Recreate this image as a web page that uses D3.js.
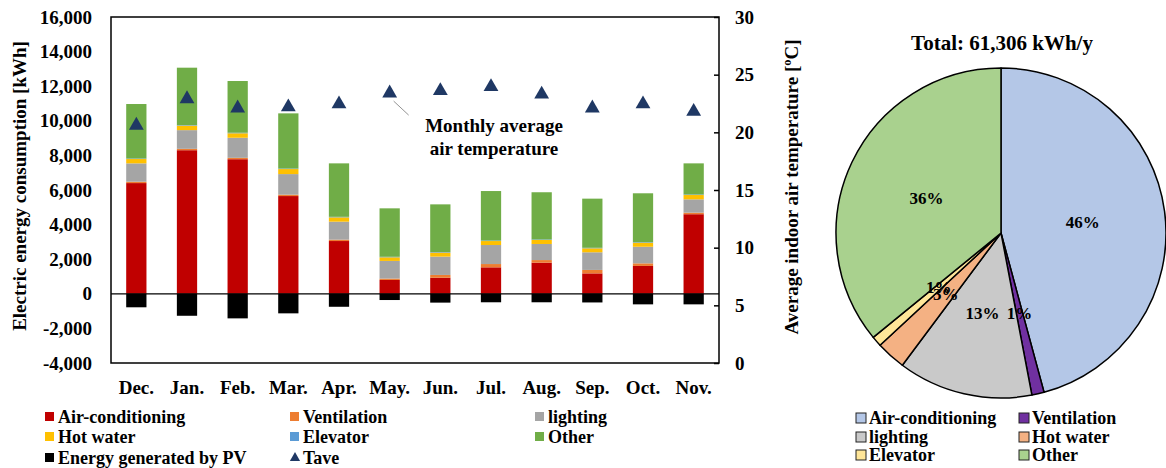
<!DOCTYPE html>
<html>
<head>
<meta charset="utf-8">
<script src="https://cdn.jsdelivr.net/npm/d3@7"></script>
<style>
	body { margin: 0; background: #fff; }
	svg text { font-family: "Liberation Serif", "Times New Roman", serif; font-weight: bold; fill: #000; }
</style>
</head>
<body>
<div id="main-view"></div>
<script>
// monthly data (kWh)
var months = ["Dec.", "Jan.", "Feb.", "Mar.", "Apr.", "May.", "Jun.", "Jul.", "Aug.", "Sep.", "Oct.", "Nov."];
var airCond  = [6400, 8300, 7780, 5650, 3050, 800, 930, 1530, 1800, 1180, 1610, 4600];
var vent     = [80, 80, 80, 80, 80, 80, 160, 190, 150, 200, 150, 90];
var lighting = [1060, 1080, 1160, 1190, 1040, 1020, 1060, 1100, 930, 1020, 960, 770];
var hotWater = [250, 260, 260, 290, 250, 210, 230, 230, 230, 230, 230, 250];
var elevator = [30, 30, 30, 30, 30, 30, 30, 30, 30, 30, 30, 30];
var other    = [3150, 3320, 2990, 3190, 3090, 2800, 2760, 2860, 2730, 2840, 2830, 1800];
var pvGen    = [-780, -1270, -1420, -1130, -750, -360, -510, -490, -490, -500, -610, -610];
var tave     = [20.6, 22.9, 22.1, 22.2, 22.45, 23.4, 23.6, 23.95, 23.3, 22.1, 22.45, 21.8];

var energyTicks = [-4000, -2000, 0, 2000, 4000, 6000, 8000, 10000, 12000, 14000, 16000];
var tempTicks = [0, 5, 10, 15, 20, 25, 30];

// annual breakdown for the pie
var pieNames  = ["Air-conditioning", "Ventilation", "lighting", "Hot water", "Elevator", "Other"];
var pieValues = [28078, 736, 8092, 1778, 613, 22009];

var barKeys = ["Air-conditioning", "Ventilation", "lighting", "Hot water", "Elevator", "Other"];
var barColors = {
	"Air-conditioning": "#c00000",
	"Ventilation": "#ed7d31",
	"lighting": "#a5a5a5",
	"Hot water": "#ffc000",
	"Elevator": "#5b9bd5",
	"Other": "#70ad47"
};
var pieColors = ["#b4c7e7", "#7030a0", "#c9c9c9", "#f4b183", "#ffe699", "#a9d18e"];
var triColor = "#1f3864";

var width = 1166, height = 468;
var plot = { left: 111, right: 719, top: 17, bottom: 363 };

var svg = d3.select("#main-view").append("svg")
	.attr("width", width)
	.attr("height", height);

var fmt = d3.formatLocale({ decimal: ".", thousands: ",", grouping: [3], currency: ["", ""], minus: "-" }).format(",");

drawBars();
drawPie();

function drawBars() {
	var x = d3.scaleBand().domain(months).range([plot.left, plot.right]).paddingInner(0.6).paddingOuter(0.3);
	var y = d3.scaleLinear().domain([-4000, 16000]).range([plot.bottom, plot.top]);
	var yT = d3.scaleLinear().domain([0, 30]).range([plot.bottom, plot.top]);

	var rows = months.map(function(m, i) {
		return {
			month: m,
			"Air-conditioning": airCond[i],
			"Ventilation": vent[i],
			"lighting": lighting[i],
			"Hot water": hotWater[i],
			"Elevator": elevator[i],
			"Other": other[i]
		};
	});
	var series = d3.stack().keys(barKeys)(rows);

	svg.append("g").selectAll("g")
		.data(series)
		.enter().append("g")
		.attr("fill", function(d) { return barColors[d.key]; })
		.selectAll("rect")
		.data(function(d) { return d; })
		.enter().append("rect")
		.attr("x", function(d) { return x(d.data.month); })
		.attr("width", x.bandwidth())
		.attr("y", function(d) { return y(d[1]); })
		.attr("height", function(d) { return y(d[0]) - y(d[1]); });

	// PV generation below zero
	svg.append("g").selectAll("rect")
		.data(pvGen)
		.enter().append("rect")
		.attr("fill", "#000")
		.attr("x", function(d, i) { return x(months[i]); })
		.attr("width", x.bandwidth())
		.attr("y", y(0))
		.attr("height", function(d) { return y(d) - y(0); });

	// zero line
	svg.append("line")
		.attr("x1", plot.left).attr("x2", plot.right)
		.attr("y1", y(0)).attr("y2", y(0))
		.attr("stroke", "#000").attr("stroke-width", 1.2);

	// frame
	svg.append("rect")
		.attr("x", plot.left).attr("y", plot.top)
		.attr("width", plot.right - plot.left).attr("height", plot.bottom - plot.top)
		.attr("fill", "none").attr("stroke", "#000").attr("stroke-width", 1.5);

	var left = svg.append("g")
		.attr("transform", "translate(" + plot.left + ",0)")
		.call(d3.axisLeft(y).tickValues(energyTicks).tickSize(0).tickPadding(19).tickFormat(fmt));
	left.select(".domain").remove();
	left.selectAll("text").style("font-size", "19px").style("font-family", null);

	var right = svg.append("g")
		.attr("transform", "translate(" + plot.right + ",0)")
		.call(d3.axisRight(yT).tickValues(tempTicks).tickSize(-5).tickPadding(16));
	right.select(".domain").remove();
	right.selectAll("line").attr("stroke-width", 1.5);
	right.selectAll("text").style("font-size", "19px").style("font-family", null);

	var bottom = svg.append("g")
		.attr("transform", "translate(0," + plot.bottom + ")")
		.call(d3.axisBottom(x).tickSize(0).tickPadding(18));
	bottom.select(".domain").remove();
	bottom.selectAll("text").style("font-size", "19px").style("font-family", null);

	// axis titles
	svg.append("text")
		.attr("transform", "translate(26,186) rotate(-90)")
		.attr("text-anchor", "middle")
		.style("font-size", "19px")
		.text("Electric energy consumption [kWh]");
	svg.append("text")
		.attr("transform", "translate(798,187) rotate(-90)")
		.attr("text-anchor", "middle")
		.style("font-size", "19px")
		.text("Average indoor air temperature [ºC]");

	// Tave triangles
	var tri = d3.symbol().type(d3.symbolTriangle).size(95);
	svg.append("g").selectAll("path")
		.data(tave)
		.enter().append("path")
		.attr("d", tri)
		.attr("fill", triColor)
		.attr("transform", function(d, i) {
			return "translate(" + (x(months[i]) + x.bandwidth() / 2) + "," + yT(d) + ")";
		});

	// annotation
	var mayX = x("May.") + x.bandwidth() / 2;
	svg.append("line")
		.attr("x1", mayX + 4).attr("y1", yT(tave[5]) + 8)
		.attr("x2", mayX + 19).attr("y2", yT(tave[5]) + 22)
		.attr("stroke", "#777").attr("stroke-width", 0.8);
	svg.append("text")
		.attr("x", 494).attr("y", 132)
		.attr("text-anchor", "middle")
		.style("font-size", "19px")
		.text("Monthly average");
	svg.append("text")
		.attr("x", 494).attr("y", 155)
		.attr("text-anchor", "middle")
		.style("font-size", "19px")
		.text("air temperature");

	// legend
	var legendItems = [
		{ name: "Air-conditioning", color: barColors["Air-conditioning"], col: 0, row: 0 },
		{ name: "Ventilation", color: barColors["Ventilation"], col: 1, row: 0 },
		{ name: "lighting", color: barColors["lighting"], col: 2, row: 0 },
		{ name: "Hot water", color: barColors["Hot water"], col: 0, row: 1 },
		{ name: "Elevator", color: barColors["Elevator"], col: 1, row: 1 },
		{ name: "Other", color: barColors["Other"], col: 2, row: 1 },
		{ name: "Energy generated by PV", color: "#000", col: 0, row: 2 },
		{ name: "Tave", color: triColor, col: 1, row: 2, tri: true }
	];
	var colX = [45, 290, 535];
	var rowY = [417, 437, 458];
	var lg = svg.append("g").selectAll("g")
		.data(legendItems)
		.enter().append("g")
		.attr("transform", function(d) { return "translate(" + colX[d.col] + "," + rowY[d.row] + ")"; });
	lg.filter(function(d) { return !d.tri; }).append("rect")
		.attr("x", 0).attr("y", -5).attr("width", 9).attr("height", 9)
		.attr("fill", function(d) { return d.color; });
	lg.filter(function(d) { return d.tri; }).append("path")
		.attr("d", d3.symbol().type(d3.symbolTriangle).size(45))
		.attr("transform", "translate(5,0)")
		.attr("fill", function(d) { return d.color; });
	lg.append("text")
		.attr("x", 13).attr("dy", "0.35em")
		.style("font-size", "18px")
		.text(function(d) { return d.name; });
}

function drawPie() {
	var cx = 1001, cy = 233, r = 165;
	var total = d3.sum(pieValues);
	var pct = d3.format(".0%");

	svg.append("text")
		.attr("x", 1002).attr("y", 50)
		.attr("text-anchor", "middle")
		.style("font-size", "21px")
		.text("Total: " + fmt(total) + " kWh/y");

	var arcs = d3.pie().sort(null)(pieValues);
	var arc = d3.arc().innerRadius(0).outerRadius(r);

	var g = svg.append("g").attr("transform", "translate(" + cx + "," + cy + ")");
	g.selectAll("path")
		.data(arcs)
		.enter().append("path")
		.attr("d", arc)
		.attr("fill", function(d, i) { return pieColors[i]; })
		.attr("stroke", "#000")
		.attr("stroke-width", 1.5)
		.attr("stroke-linejoin", "round");

	g.selectAll("text")
		.data(arcs)
		.enter().append("text")
		.attr("transform", function(d) { return "translate(" + arc.centroid(d) + ")"; })
		.attr("text-anchor", "middle")
		.attr("dy", "0.35em")
		.style("font-size", "17px")
		.text(function(d) { return pct(d.value / total); });

	// legend
	var colX = [856, 1019];
	var rowY = [418, 437, 455];
	var lg = svg.append("g").selectAll("g")
		.data(pieNames)
		.enter().append("g")
		.attr("transform", function(d, i) { return "translate(" + colX[i % 2] + "," + rowY[Math.floor(i / 2)] + ")"; });
	lg.append("rect")
		.attr("x", 0).attr("y", -5).attr("width", 10).attr("height", 10)
		.attr("fill", function(d, i) { return pieColors[i]; })
		.attr("stroke", "#222").attr("stroke-width", 1);
	lg.append("text")
		.attr("x", 13).attr("dy", "0.35em")
		.style("font-size", "18px")
		.text(function(d) { return d; });
}
</script>
</body>
</html>
